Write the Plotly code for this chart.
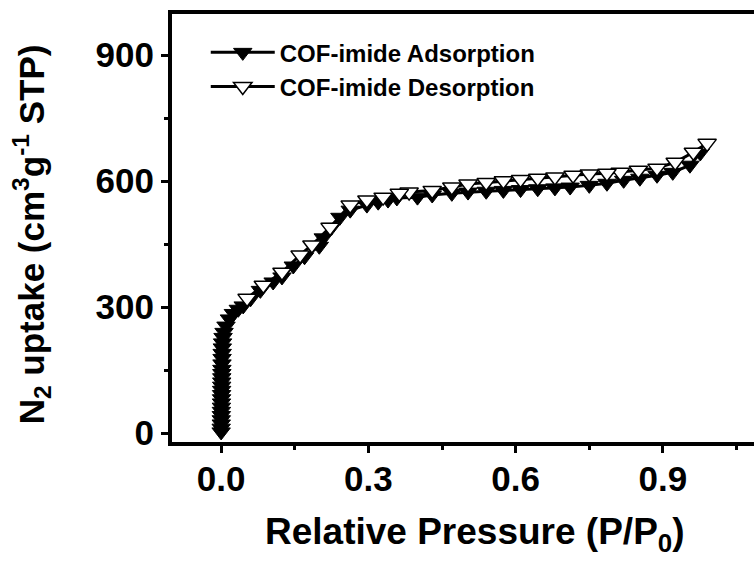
import plotly.graph_objects as go

# Adsorption branch (filled down-triangles)
ads_x = [0.0001, 0.0002, 0.0003, 0.0004, 0.0005, 0.0006, 0.0007, 0.0008, 0.0009, 0.001,
         0.0011, 0.0012, 0.0013, 0.0014, 0.0015, 0.0016, 0.0018, 0.002, 0.0022, 0.0025,
         0.003, 0.004, 0.006, 0.010, 0.017, 0.025, 0.035, 0.045, 0.060, 0.080,
         0.106, 0.124, 0.147, 0.170, 0.200, 0.208, 0.225, 0.242, 0.263, 0.297,
         0.320, 0.340, 0.358, 0.400, 0.430, 0.470, 0.503, 0.540, 0.575, 0.610,
         0.645, 0.680, 0.711, 0.750, 0.786, 0.820, 0.853, 0.888, 0.920, 0.955, 0.976]
ads_y = [3, 12, 22, 32, 42, 52, 62, 72, 82, 92,
         102, 112, 122, 132, 142, 152, 165, 178, 190, 203,
         215, 228, 240, 255, 272, 285, 295, 303, 320, 340,
         360, 372, 398, 420, 445, 465, 490, 514, 531, 543,
         550, 555, 560, 562, 567, 571, 574, 576, 578, 580,
         582, 584, 586, 590, 595, 602, 607, 614, 621, 638, 667]

# Desorption branch (open down-triangles)
des_x = [0.990, 0.962, 0.925, 0.888, 0.850, 0.813, 0.786, 0.750, 0.717, 0.680,
         0.645, 0.610, 0.575, 0.540, 0.503, 0.470, 0.430, 0.383, 0.363, 0.330,
         0.297, 0.263, 0.222, 0.185, 0.161, 0.124, 0.086, 0.053]
des_y = [690, 669, 645, 631, 626, 621, 619, 617, 614, 610,
         607, 604, 601, 597, 593, 586, 578, 574, 571, 562,
         555, 543, 490, 448, 424, 383, 352, 321]

x_ticks = [0.0, 0.3, 0.6, 0.9]
x_labels = ["0.0", "0.3", "0.6", "0.9"]
y_ticks = [0, 300, 600, 900]
y_labels = ["0", "300", "600", "900"]

FONT = "Liberation Sans, Arial, sans-serif"

fig = go.Figure()
fig.add_trace(go.Scatter(
    x=ads_x, y=ads_y, mode="lines+markers", name="COF-imide Adsorption",
    line=dict(color="black", width=3),
    marker=dict(symbol="triangle-down", size=16, color="black",
                line=dict(color="black", width=1)),
))
fig.add_trace(go.Scatter(
    x=des_x, y=des_y, mode="lines+markers", name="COF-imide Desorption",
    line=dict(color="black", width=3),
    marker=dict(symbol="triangle-down", size=16, color="white",
                line=dict(color="black", width=1.5)),
))

axis_common = dict(
    showgrid=False, zeroline=False, showline=True, linecolor="black", linewidth=4,
    ticks="outside", ticklen=7, tickwidth=3, tickcolor="black",
    tickfont=dict(family=FONT, size=35, color="black", weight="bold"),
)

fig.update_xaxes(
    range=[-0.1, 1.0855], tickvals=x_ticks, ticktext=x_labels, mirror=True,
    ticklabelstandoff=-4,
    minor=dict(tickvals=[0.15, 0.45, 0.75, 1.05], ticks="outside", ticklen=4,
               tickwidth=3, tickcolor="black"),
    **axis_common,
)
fig.update_yaxes(
    range=[-21, 998], tickvals=y_ticks, ticktext=y_labels, mirror=False,
    minor=dict(tickvals=[150, 450, 750], ticks="outside", ticklen=4,
               tickwidth=3, tickcolor="black"),
    **axis_common,
)

fig.add_annotation(
    text="Relative Pressure (P/P<sub>0</sub>)", xref="paper", yref="paper",
    x=0.52, y=-0.215, xanchor="center", yanchor="middle", showarrow=False,
    font=dict(family=FONT, size=37, color="black", weight="bold"),
)
fig.add_annotation(
    text="N<sub>2</sub> uptake (cm<sup>3</sup>g<sup>-1</sup> STP)", xref="paper", yref="paper",
    x=-0.24, y=0.486, xanchor="center", yanchor="middle", textangle=-90, showarrow=False,
    font=dict(family=FONT, size=35, color="black", weight="bold"),
)

fig.update_layout(
    width=754, height=563,
    margin=dict(l=172, r=0, t=14, b=121),
    paper_bgcolor="white", plot_bgcolor="white",
    showlegend=True,
    legend=dict(
        x=0.058, y=0.962, xanchor="left", yanchor="top",
        bgcolor="rgba(0,0,0,0)", borderwidth=0,
        font=dict(family=FONT, size=24, color="black", weight="bold"),
        itemwidth=64, tracegroupgap=0,
    ),
)

fig.write_html("out.html")
